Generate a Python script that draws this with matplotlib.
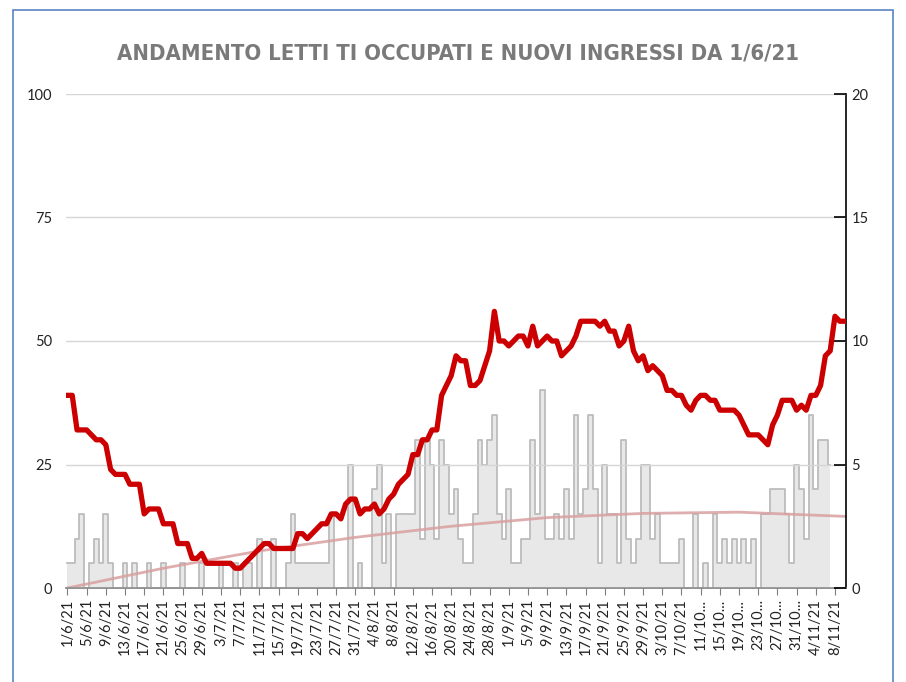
import matplotlib
matplotlib.use("Agg")
import matplotlib.pyplot as plt
from matplotlib import font_manager as fm
from matplotlib.patches import Rectangle

TITLE = "ANDAMENTO LETTI TI OCCUPATI E NUOVI INGRESSI DA 1/6/21"

# occupied ICU beds, one value per day from 1/6/21 (left axis)
letti = [
    39, 39, 32, 32, 32, 31, 30, 30, 29, 24,
    23, 23, 23, 21, 21, 21, 15, 16, 16, 16,
    13, 13, 13, 9, 9, 9, 6, 6, 7, 5,
    5, 5, 5, 5, 5, 4, 4, 5, 6, 7,
    8, 9, 9, 8, 8, 8, 8, 8, 11, 11,
    10, 11, 12, 13, 13, 15, 15, 14, 17, 18,
    18, 15, 16, 16, 17, 15, 16, 18, 19, 21,
    22, 23, 27, 27, 30, 30, 32, 32, 39, 41,
    43, 47, 46, 46, 41, 41, 42, 45, 48, 56,
    50, 50, 49, 50, 51, 51, 49, 53, 49, 50,
    51, 50, 50, 47, 48, 49, 51, 54, 54, 54,
    54, 53, 54, 52, 52, 49, 50, 53, 48, 46,
    47, 44, 45, 44, 43, 40, 40, 39, 39, 37,
    36, 38, 39, 39, 38, 38, 36, 36, 36, 36,
    35, 33, 31, 31, 31, 30, 29, 33, 35, 38,
    38, 38, 36, 37, 36, 39, 39, 41, 47, 48,
    55, 54, 54,
]

# new ICU admissions per day (right axis)
ingressi = [
    1, 1, 2, 3, 0, 1, 2, 1, 3, 1,
    0, 0, 1, 0, 1, 0, 0, 1, 0, 0,
    1, 0, 0, 0, 1, 0, 0, 0, 1, 0,
    0, 0, 1, 0, 0, 1, 0, 1, 1, 0,
    2, 0, 0, 2, 0, 0, 1, 3, 1, 1,
    1, 1, 1, 1, 1, 3, 0, 0, 0, 5,
    0, 1, 0, 0, 4, 5, 1, 3, 0, 3,
    3, 3, 3, 6, 2, 6, 5, 2, 6, 5,
    3, 4, 2, 1, 1, 3, 6, 5, 6, 7,
    3, 2, 4, 1, 1, 2, 2, 6, 3, 8,
    2, 2, 3, 2, 4, 2, 7, 3, 4, 7,
    4, 1, 5, 3, 3, 1, 6, 2, 1, 2,
    5, 5, 2, 3, 1, 1, 1, 1, 2, 0,
    0, 3, 0, 1, 0, 3, 1, 2, 1, 2,
    1, 2, 1, 2, 0, 3, 3, 4, 4, 4,
    3, 1, 5, 4, 2, 7, 4, 6, 6, 5,
]

# admissions trend line at a few days (right axis)
trend_days = [0, 20, 40, 60, 80, 100, 120, 140, 162]
trend_vals = [0.0, 0.8, 1.5, 2.05, 2.5, 2.85, 3.02, 3.07, 2.9]

tick_labels = [
    "1/6/21", "5/6/21", "9/6/21", "13/6/21", "17/6/21", "21/6/21", "25/6/21",
    "29/6/21", "3/7/21", "7/7/21", "11/7/21", "15/7/21", "19/7/21", "23/7/21",
    "27/7/21", "31/7/21", "4/8/21", "8/8/21", "12/8/21", "16/8/21", "20/8/21",
    "24/8/21", "28/8/21", "1/9/21", "5/9/21", "9/9/21", "13/9/21", "17/9/21",
    "21/9/21", "25/9/21", "29/9/21", "3/10/21", "7/10/21", "11/10...",
    "15/10...", "19/10...", "23/10...", "27/10...", "31/10...", "4/11/21",
    "8/11/21",
]

W, H = 906, 682
TICK_FONT = ["Lato", "DejaVu Sans"]

# narrow bold face for the title (Excel used Calibri); take what is installed
_fonts = fm.fontManager.ttflist
_names = {f.name for f in _fonts}
title_kw = dict(family=["DejaVu Sans"])
if "Liberation Sans Narrow" in _names:
    title_kw = dict(family=["Liberation Sans Narrow", "DejaVu Sans"])
elif any(f.name == "DejaVu Sans" and f.stretch in ("condensed", "semi-condensed")
         for f in _fonts):
    title_kw = dict(family=["DejaVu Sans"], fontstretch="condensed")
elif "Roboto" in _names:
    title_kw = dict(family=["Roboto", "DejaVu Sans"])

fig = plt.figure(figsize=(W / 100, H / 100), dpi=100)

# right-scale axes (admissions) carries the grid; left-scale twin carries the beds
axR = fig.add_axes([66 / W, 1 - 588 / H, 780 / W, 494 / H])
axL = axR.twinx()

days_l = list(range(len(letti)))
days_i = list(range(len(ingressi)))

axR.fill_between(days_i, ingressi, step="mid", color="#e8e8e8", lw=0, zorder=1)
axR.step(days_i, ingressi, where="mid", color="#bcbcbc", lw=1.3, zorder=1.5)
axR.plot(trend_days, trend_vals, color="#d9a0a0", lw=2.0, alpha=0.85, zorder=2)

axL.plot(days_l, letti, color="#cc0000", lw=3.8, zorder=3)

axR.set_xlim(-0.3, 162.3)
axR.set_ylim(0, 20)
axL.set_ylim(0, 100)

axR.set_axisbelow(False)
axR.yaxis.grid(True, color="#d6d6d6", lw=1.0, zorder=2.5)
axR.set_yticks([0, 5, 10, 15, 20])
axL.set_yticks([0, 25, 50, 75, 100])

axR.yaxis.tick_right()
axL.yaxis.tick_left()
axR.tick_params(axis="y", direction="in", length=9, width=1.2, color="black",
                pad=4, labelsize=10.5, labelcolor="#222222")
axL.tick_params(axis="y", length=0, pad=10, labelsize=10.5, labelcolor="#222222")

axR.set_xticks(range(0, 4 * len(tick_labels), 4))
axR.set_xticklabels(tick_labels, rotation=90)
axR.tick_params(axis="x", direction="out", length=5, color="#7f7f7f",
                pad=3, labelsize=10.5, labelcolor="#222222")

for a in (axR, axL):
    for s in ("top", "left", "right", "bottom"):
        a.spines[s].set_visible(False)
axR.spines["right"].set_visible(True)
axR.spines["right"].set_color("black")
axR.spines["right"].set_linewidth(1.2)
axR.spines["bottom"].set_visible(True)
axR.spines["bottom"].set_color("#7f7f7f")
axR.spines["bottom"].set_linewidth(1.2)

for lab in axR.get_xticklabels() + axR.get_yticklabels() + axL.get_yticklabels():
    lab.set_family(TICK_FONT)

title = fig.text(458 / W, 1 - 53.5 / H, TITLE, ha="center", va="center",
                 fontsize=17, fontweight="bold", color="#7a7a7a", **title_kw)
# fit the title to the width it has in the original (about 683 px)
fig.canvas.draw()
tw = title.get_window_extent().width
title.set_fontsize(min(19, 17 * 683 / tw))

# thin blue frame of the chart box
fig.patches.append(Rectangle((13 / W, -0.05), 880 / W, 1.05 - 10 / H,
                             transform=fig.transFigure, fill=False,
                             edgecolor="#5b84c4", lw=1.2))

fig.savefig("out.png", dpi=100)
plt.close(fig)
